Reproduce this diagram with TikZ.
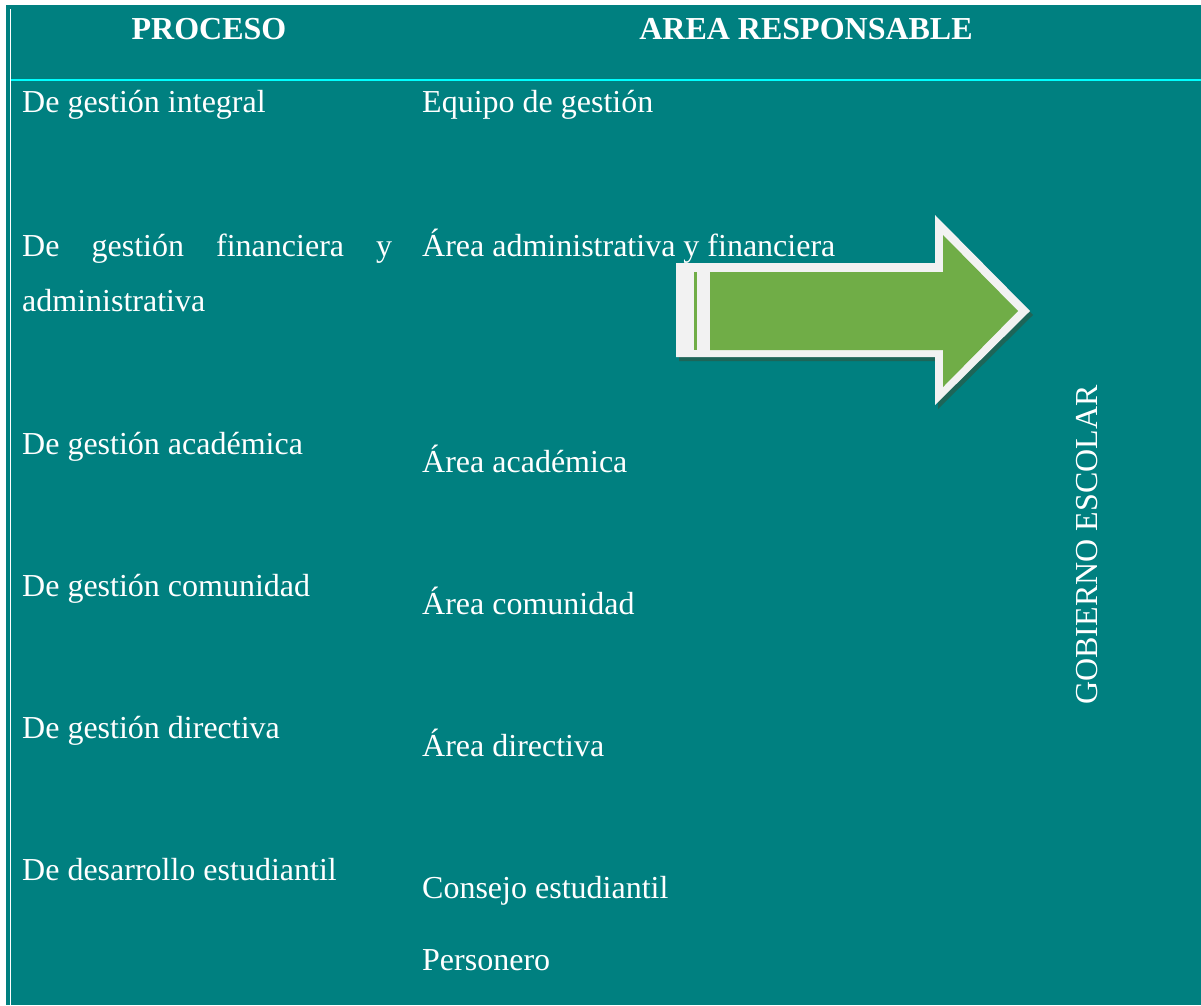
\documentclass[tikz,border=0pt]{standalone}
\usepackage{fontspec}
\setmainfont{Liberation Serif}
\definecolor{tealbg}{HTML}{008080}
\definecolor{cyanline}{HTML}{00FFFF}
\definecolor{arrowgreen}{HTML}{70AD47}
\definecolor{arrowwhite}{HTML}{F2F2F2}
\definecolor{shadowteal}{HTML}{1E6558}
\begin{document}
\begin{tikzpicture}[x=1pt,y=-1pt,
  txt/.style={anchor=base west,inner sep=0pt,text=white,font=\fontsize{32}{38}\selectfont},
  hdr/.style={anchor=base,inner sep=0pt,text=white,font=\fontsize{32}{38}\selectfont\bfseries}]
\useasboundingbox (0,0) rectangle (1201,1005);
\fill[white] (0,0) rectangle (1201,1005);
\fill[tealbg] (6,5) rectangle (1201,1005);
\fill[white] (9.5,9) rectangle (11,1005);
\fill[cyanline] (11,79) rectangle (1201,81);
% header
\node[hdr] (h1) at (209,39) {PROCESO};
\node[hdr] (h2) at (806,39) {AREA RESPONSABLE};
% left column
\node[txt] (p1) at (22,112) {De gestión integral};
\node[txt] (p2) at (22,256) {\makebox[370pt][s]{De\hfill gestión\hfill financiera\hfill y}};
\node[txt] (p2b) at (22,311) {administrativa};
\node[txt] (p3) at (22,454) {De gestión académica};
\node[txt] (p4) at (22,596) {De gestión comunidad};
\node[txt] (p5) at (22,738) {De gestión directiva};
\node[txt] (p6) at (22,880) {De desarrollo estudiantil};
% right column
\node[txt] (a1) at (422,112) {Equipo de gestión};
\node[txt] (a2) at (422,256) {Área administrativa y financiera};
\node[txt] (a3) at (422,472) {Área académica};
\node[txt] (a4) at (422,614) {Área comunidad};
\node[txt] (a5) at (422,756) {Área directiva};
\node[txt] (a6) at (422,898) {Consejo estudiantil};
\node[txt] (a7) at (422,970) {Personero};
% rotated label
\node[inner sep=0pt,text=white,font=\fontsize{32}{38}\selectfont,rotate=90] (gob) at (1087,545) {GOBIERNO ESCOLAR};
% arrow
\fill[shadowteal] (679,267) -- (938,267) -- (938,219) -- (1033,315) -- (938,409) -- (938,361) -- (679,361) -- cycle;
\fill[arrowwhite] (676,263) -- (935,263) -- (935,215) -- (1030,311) -- (935,405) -- (935,357) -- (676,357) -- cycle;
\fill[arrowgreen] (710,272) -- (943,272) -- (943,235) -- (1018,311) -- (943,387) -- (943,350) -- (710,350) -- cycle;
\fill[arrowgreen] (694,272) rectangle (697,350);
\end{tikzpicture}
\end{document}
